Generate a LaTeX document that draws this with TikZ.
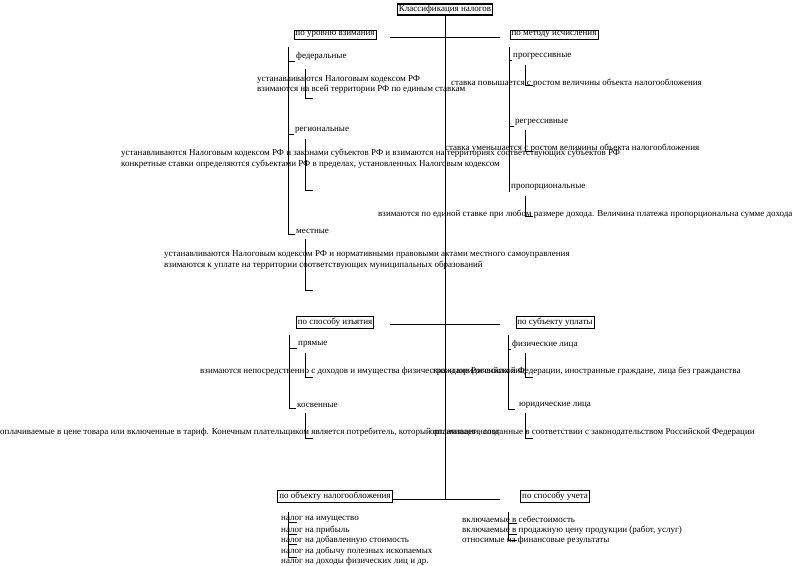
\documentclass[tikz,border=0pt]{standalone}
\usepackage{fontspec}
\setmainfont{Liberation Serif}
\usetikzlibrary{positioning}

\tikzset{
  rootbox/.style={draw,line width=1.6pt,inner sep=1.5pt},
  clsbox/.style={draw,line width=0.8pt,inner sep=1.5pt},
  kind/.style={inner sep=1pt,anchor=west},
  note/.style={inner sep=0pt,anchor=west,align=left},
  item/.style={inner sep=0pt,anchor=west},
  link/.style={line width=0.8pt},
}

\begin{document}
\begin{tikzpicture}[x=1pt,y=-1pt,font=\fontsize{9}{10.5}\selectfont]
\useasboundingbox (0,-1.5) rectangle (795,563.5);

% root and trunk
\node[rootbox] (root) at (445,8) {Классификация налогов};
\coordinate (trunkend) at (445,498);
\draw[link] (root.south) -- (trunkend);

% classification criteria
\node[clsbox] (lvl) at (335,33) {по уровню взимания};
\node[clsbox] (mtd) at (554,33) {по методу исчисления};
\node[clsbox] (wdr) at (335,321) {по способу изъятия};
\node[clsbox] (sbj) at (555,321) {по субъекту уплаты};
\node[clsbox] (obj) at (335,495) {по объекту налогообложения};
\node[clsbox] (acc) at (555,495) {по способу учета};

\coordinate (rowa) at (390,36);  \coordinate (rowb) at (500,36);
\coordinate (rowc) at (390,323); \coordinate (rowd) at (500,323);
\coordinate (rowe) at (500,498);
\draw[link] (rowa) -- (rowb);
\draw[link] (rowc) -- (rowd);
\draw[link] (obj.east |- rowe) -- (rowe);

% по уровню взимания
\node[kind] (fed) at (295,55) {федеральные};
\node[kind] (reg) at (294,129) {региональные};
\node[kind] (loc) at (295,230) {местные};
\coordinate (lvlsp) at (288,45);
\draw[link] (lvlsp) |- (loc.south west);
\foreach \c in {fed,reg}
  \draw[link] (lvlsp |- \c.south west) -- (\c.south west);

\node[note] (fednote) at (257,83) {устанавливаются Налоговым кодексом РФ\\
  взимаются на всей территории РФ по единым ставкам};
\node[note] (regnote) at (121,157) {устанавливаются Налоговым кодексом РФ и законами субъектов РФ и взимаются на территориях соответствующих субъектов РФ\\
  конкретные ставки определяются субъектами РФ в пределах, установленных Налоговым кодексом};
\node[note] (locnote) at (164,258.5) {устанавливаются Налоговым кодексом РФ и нормативными правовыми актами местного самоуправления\\
  взимаются к уплате на территории соответствующих муниципальных образований};

% по методу исчисления
\node[kind] (prg) at (512,55) {прогрессивные};
\node[kind] (rgr) at (514,121) {регрессивные};
\node[kind] (prp) at (510,186) {пропорциональные};
\coordinate (mtdsp) at (509,45);
\draw[link] (mtdsp) |- (prp.south west);
\foreach \c in {prg,rgr}
  \draw[link] (mtdsp |- \c.south west) -- (\c.south west);

\node[note] (prgnote) at (451,82) {ставка повышается с ростом величины объекта налогообложения};
\node[note] (rgrnote) at (445,147) {ставка уменьшается с ростом величины объекта налогообложения};
\node[note] (prpnote) at (378,213) {взимаются по единой ставке при любом размере дохода. Величина платежа пропорциональна сумме дохода};

% по способу изъятия
\node[kind] (dir) at (297,343) {прямые};
\node[kind] (ind) at (296,404) {косвенные};
\coordinate (wdrsp) at (289,333);
\draw[link] (wdrsp) |- (ind.south west);
\draw[link] (wdrsp |- dir.south west) -- (dir.south west);

\node[note] (dirnote) at (200,370) {взимаются непосредственно с доходов и имущества физических и юридических лиц};
\node[note] (indnote) at (0,431) {оплачиваемые в цене товара или включенные в тариф. Конечным плательщиком является потребитель, который оплачивает налог};

% по субъекту уплаты
\node[kind] (phy) at (511,343) {физические лица};
\node[kind] (jur) at (518,404) {юридические лица};
\coordinate (sbjsp) at (508,333);
\draw[link] (sbjsp) |- ([xshift=-3pt]jur.south west);
\draw[link] (sbjsp |- phy.south west) -- (phy.south west);

\node[note] (phynote) at (433,370) {граждане Российской Федерации, иностранные граждане, лица без гражданства};
\node[note] (jurnote) at (430,431) {организации, созданные в соответствии с законодательством Российской Федерации};

% brackets from the kinds to their notes
\foreach \x/\ya/\yb in {305/67/97, 305/137/189, 305/237/289,
                        525/63/84, 525/128/150, 525/194/215,
                        305/351/376, 305/411/437, 525/351/376, 525/411/437}
  \draw[link] (\x,\ya) |- (\x+8,\yb);

% по объекту налогообложения
\foreach \t [count=\i] in {налог на имущество, налог на прибыль,
    налог на добавленную стоимость, налог на добычу полезных ископаемых,
    налог на доходы физических лиц и др.}
  \node[item] (obj\i) at (281,507.5+10.5*\i) {\t};
\coordinate (objsp) at (288,510);
\draw[link] (objsp) |- ([yshift=-2pt]obj4.south -| 297,0);
\foreach \i in {1,2,3}
  \draw[link] (objsp |- obj\i.south) -- ++(9,0);

% по способу учета
\foreach \t [count=\i] in {включаемые в себестоимость,
    включаемые в продажную цену продукции (работ{,} услуг),
    относимые на финансовые результаты}
  \node[item] (acc\i) at (462,507.5+10.5*\i) {\t};
\coordinate (accsp) at (508,510);
\draw[link] (accsp) |- ([yshift=4pt]acc3.south -| 517,0);
\foreach \i in {1,2}
  \draw[link] (accsp |- acc\i.south) -- ++(9,0);
\end{tikzpicture}
\end{document}
